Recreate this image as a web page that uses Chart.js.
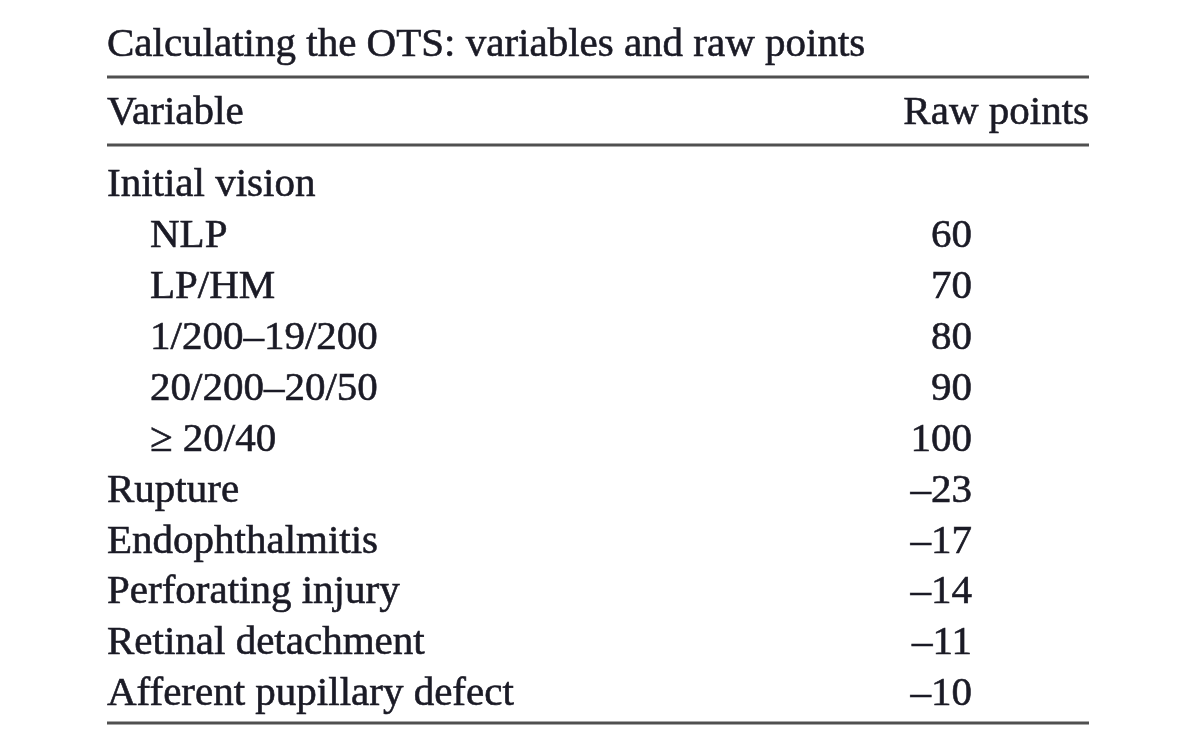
<!DOCTYPE html>
<html>
<head>
<meta charset="utf-8">
<script src="https://cdn.jsdelivr.net/npm/chart.js@4.4.1/dist/chart.umd.min.js"></script>
<style>
  html, body { margin: 0; padding: 0; background: #fff; }
  #wrap { width: 1200px; height: 750px; }
</style>
</head>
<body>
<div id="wrap"><canvas id="otsTable"></canvas></div>
<script>
// Table content
const tableTitle = 'Calculating the OTS: variables and raw points';
const columnHeaders = ['Variable', 'Raw points'];
const variables = [
  'Initial vision', 'NLP', 'LP/HM', '1/200–19/200', '20/200–20/50', '≥ 20/40',
  'Rupture', 'Endophthalmitis', 'Perforating injury', 'Retinal detachment',
  'Afferent pupillary defect'
];
const indented = [false, true, true, true, true, true, false, false, false, false, false];
const rawPoints = [null, 60, 70, 80, 90, 100, -23, -17, -14, -11, -10];

const FONT = '41px "Liberation Serif", "DejaVu Serif", serif';
const INK = '#1b1b26';
const RULE = '#505050';

// Draws the table text and rules, rows placed by the category y scale
const tablePlugin = {
  id: 'tablePlugin',
  afterDraw(chart) {
    const ctx = chart.ctx;
    const y = chart.scales.y;
    const left = 107, right = 1089, valueRight = 972;

    ctx.save();
    ctx.fillStyle = INK;
    ctx.strokeStyle = INK;
    ctx.lineWidth = 0.6; // thin outline so glyphs match the heavier scan
    ctx.font = FONT;
    ctx.textBaseline = 'middle';

    const write = (text, x, py, align) => {
      ctx.textAlign = align;
      ctx.fillText(text, x, py);
      ctx.strokeText(text, x, py);
    };

    // Title and header
    write(tableTitle, left, 45, 'left');
    write(columnHeaders[0], left, 113, 'left');
    write(columnHeaders[1], right, 113, 'right');

    // Rows
    variables.forEach((name, i) => {
      const py = y.getPixelForValue(i);
      write(name, indented[i] ? left + 43 : left, py, 'left');
      const v = rawPoints[i];
      if (v !== null) {
        write(v < 0 ? '–' + Math.abs(v) : String(v), valueRight, py, 'right');
      }
    });

    // Horizontal rules
    ctx.strokeStyle = RULE;
    ctx.lineWidth = 3;
    [77, 145, 723].forEach(ry => {
      ctx.beginPath();
      ctx.moveTo(left, ry);
      ctx.lineTo(right, ry);
      ctx.stroke();
    });
    ctx.restore();
  }
};

window.onload = () => {
  const ctx = document.getElementById('otsTable').getContext('2d');
  new Chart(ctx, {
    type: 'bar',
    data: {
      labels: variables,
      datasets: [{
        data: rawPoints,
        backgroundColor: 'rgba(0,0,0,0)' // bars hidden, the plugin writes the values
      }]
    },
    options: {
      indexAxis: 'y',
      responsive: true,
      maintainAspectRatio: false,
      animation: false,
      layout: { padding: { top: 160, bottom: 30, left: 0, right: 0 } },
      plugins: {
        legend: { display: false },
        tooltip: { enabled: false }
      },
      scales: {
        x: { display: false },
        y: { display: false, offset: true, grid: { display: false } }
      }
    },
    plugins: [tablePlugin]
  });
};
</script>
</body>
</html>
